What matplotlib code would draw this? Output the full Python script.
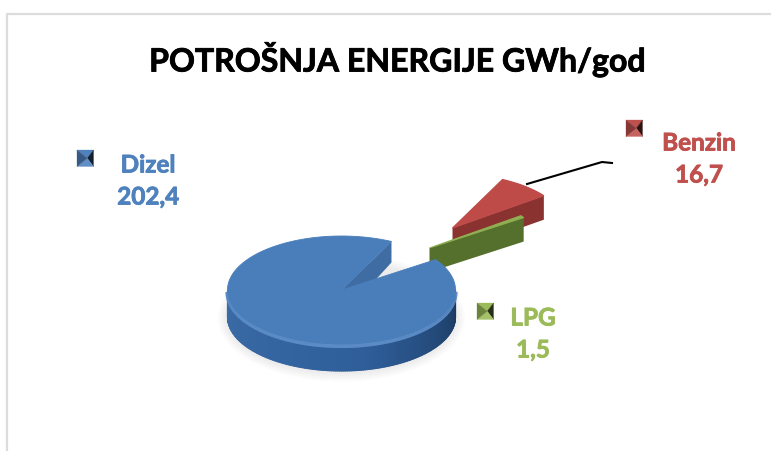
import numpy as np
import matplotlib
matplotlib.use('Agg')
import matplotlib.pyplot as plt
import matplotlib.patheffects as pe
from matplotlib.colors import to_rgb
from matplotlib.patches import Polygon

# Data
categories = ['Dizel', 'Benzin', 'LPG']
values = [202.4, 16.7, 1.5]
value_labels = ['202,4', '16,7', '1,5']
title = 'POTROŠNJA ENERGIJE GWh/god'

# Styles, everything in pixels of the 771x452 picture
text_colors = ['#4F81BD', '#C0504D', '#9BBB59']
top_colors = ['#4A7EBB', '#BE4B48', '#8FAF52']
wall_colors = ['#35608F', '#8A3230', '#55702C']
explode = [(0, 0), (111, -62), (88, -42)]
depth = [27, 24, 24]
text_pos = [(148, 166, 198), (699, 144, 176), (533, 319, 351)]
key_pos = [(77, 151), (626, 121), (477, 304)]
key_size = 16.5
cx, cy = 341.5, 291
rx, ry = 114, 54
start_angle = 64


def mix(c1, c2, t):
    c1, c2 = np.array(to_rgb(c1)), np.array(to_rgb(c2))
    return tuple(c1 + (c2 - c1) * t)


def pt(angle, off=(0, 0), drop=0):
    a = np.radians(angle)
    return cx + off[0] + rx * np.cos(a), cy + off[1] - ry * np.sin(a) + drop


def top_face(a1, a2, off):
    angles = np.linspace(a1, a2, 300)
    pts = [pt(a, off) for a in angles]
    return [(cx + off[0], cy + off[1])] + pts


fig = plt.figure(figsize=(7.71, 4.52), dpi=100)
ax = fig.add_axes([0, 0, 1, 1])
ax.set_xlim(0, 771)
ax.set_ylim(452, 0)
ax.axis('off')

# Grey frame, open at the bottom
ax.plot([7, 7, 771], [452, 15, 15], color='#DCDCDC', lw=1.6, zorder=1)

# Slice angles come from the values, clockwise: Benzin, LPG, then Dizel round to the start
total = sum(values)
sweeps = [v / total * 360 for v in values]
a_benzin = (start_angle, start_angle - sweeps[1])
a_lpg = (a_benzin[1], a_benzin[1] - sweeps[2])
a_dizel = (a_lpg[1], a_lpg[1] - sweeps[0])

# Soft shadow under the disc
for k in range(10):
    grow = 10 - k
    angles = np.linspace(0, 360, 200)
    shadow = [(cx + (rx + grow) * np.cos(np.radians(a)),
               cy + depth[0] + 1 - (ry + grow) * np.sin(np.radians(a))) for a in angles]
    ax.add_patch(Polygon(shadow, closed=True, fc='#808080', ec='none', alpha=0.012, zorder=1.5))

# Benzin and LPG pieces go behind the blue disc
for i, (a1, a2) in [(1, a_benzin), (2, a_lpg)]:
    off = explode[i]
    d = depth[i]
    apex = (cx + off[0], cy + off[1])
    end = pt(a2, off)
    wall = [apex, end, (end[0], end[1] + d), (apex[0], apex[1] + d)]
    ax.add_patch(Polygon(wall, closed=True, fc=wall_colors[i], ec='none', zorder=2 + i))
    ax.add_patch(Polygon(top_face(a1, a2, off), closed=True, fc=top_colors[i],
                         ec=top_colors[i], lw=0.8, zorder=2 + i))

# Blue disc: inner wall, outer wall strips, then the top
inner = pt(start_angle)
d0 = depth[0]
ax.add_patch(Polygon([(cx, cy), inner, (inner[0], inner[1] + d0 - 6), (cx, cy + d0)],
                     closed=True, fc='#3F6DA3', ec='none', zorder=5))
steps = np.arange(180, 360, 1.0)
for a in steps:
    t = (a - 180) / 180
    if t < 0.55:
        col = mix('#3C6CA6', '#2F5F9B', t / 0.55)
    else:
        col = mix('#2F5F9B', '#1B3A60', (t - 0.55) / 0.45)
    p1, p2 = pt(a), pt(a + 1.2)
    strip = [p1, p2, (p2[0], p2[1] + d0), (p1[0], p1[1] + d0)]
    ax.add_patch(Polygon(strip, closed=True, fc=col, ec=col, lw=0.8, zorder=5))
# bevel on the front edge of the top
for a in steps:
    p1, p2 = pt(a, drop=2), pt(a + 1.2, drop=2)
    ax.plot([p1[0], p2[0]], [p1[1], p2[1]], color='#5B8CC6', lw=3, zorder=5.5,
            solid_capstyle='butt')

ax.add_patch(Polygon(top_face(a_dizel[0], a_dizel[1], (0, 0)), closed=True,
                     fc=top_colors[0], ec=top_colors[0], lw=0.6, zorder=6))

# Leader line of Benzin
ax.plot([527, 602, 612], [185, 163, 164], color='black', lw=1.5, zorder=7)

# Labels
for i, name in enumerate(categories):
    x, y1, y2 = text_pos[i]
    stroke = [pe.withStroke(linewidth=0.6, foreground=text_colors[i])]
    ax.text(x, y1, name, color=text_colors[i], family='Lato', weight='bold', fontsize=17.5,
            ha='center', va='center', zorder=8, path_effects=stroke)
    ax.text(x, y2, value_labels[i], color=text_colors[i], family='Lato', weight='bold',
            fontsize=17.5, ha='center', va='center', zorder=8, path_effects=stroke)

# Legend keys: small pyramids made of four triangles
for i, (x, y) in enumerate(key_pos):
    s = key_size
    mid = (x + s * 0.62, y + s / 2)
    base = text_colors[i]
    corners = [(x, y), (x + s, y), (x + s, y + s), (x, y + s)]
    shades = [base, mix(base, 'black', 0.75),
              mix(base, 'white', 0.1), mix(base, 'black', 0.3)]
    for j in range(4):
        tri = [corners[j], corners[(j + 1) % 4], mid]
        ax.add_patch(Polygon(tri, closed=True, fc=shades[j], ec=shades[j], lw=0.2, zorder=8))

# Title
ax.text(398, 60, title, color='black', family='Lato', weight='bold', fontsize=23.1,
        ha='center', va='center', zorder=8,
        path_effects=[pe.withStroke(linewidth=0.6, foreground='black')])

plt.savefig('out.png', dpi=100)
